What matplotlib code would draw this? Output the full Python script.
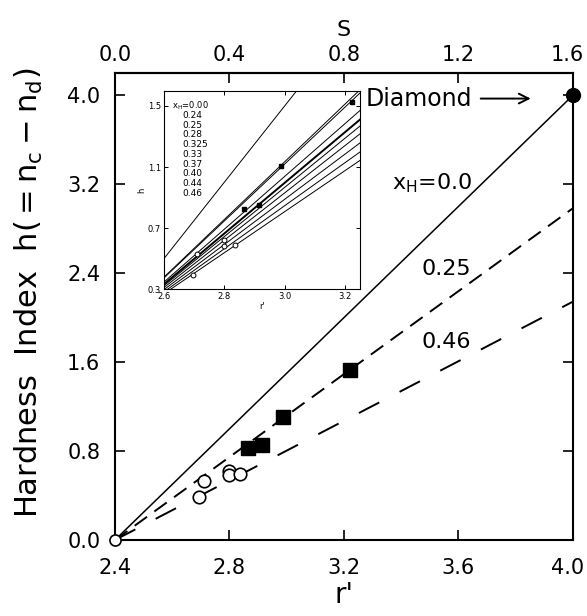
import matplotlib.pyplot as plt
import matplotlib.transforms as mtransforms
import numpy as np

plt.rcParams['font.family'] = 'DejaVu Sans'
plt.rcParams['mathtext.default'] = 'regular'
plt.rcParams['lines.scale_dashes'] = False

# ---- data ----
r_origin = 2.4

# main panel: h = slope * (r' - 2.4)
main_xh = ['0.0', '0.25', '0.46']
main_slopes = [2.5, 1.865, 1.34]

# filled squares and open circles
sq_r = [2.865, 2.914, 2.987, 3.222]
sq_h = [0.827, 0.854, 1.106, 1.528]
circ_r = [2.695, 2.71, 2.80, 2.80, 2.835]
circ_h = [0.39, 0.53, 0.62, 0.585, 0.59]

diamond_r = 4.0
diamond_h = 4.0

# inset lines
inset_xh = ['0.00', '0.24', '0.25', '0.28', '0.325', '0.33', '0.37', '0.40', '0.44', '0.46']
inset_slopes = [2.5, 1.89, 1.865, 1.73, 1.66, 1.61, 1.55, 1.48, 1.41, 1.345]

main_xticks = [2.4, 2.8, 3.2, 3.6, 4.0]
main_yticks = [0.0, 0.8, 1.6, 2.4, 3.2, 4.0]
s_ticks = [0.0, 0.4, 0.8, 1.2, 1.6]
inset_xticks = [2.6, 2.8, 3.0, 3.2]
inset_yticks = [0.3, 0.7, 1.1, 1.5]

fig = plt.figure(figsize=(5.87, 6.16), dpi=100)
ax = fig.add_axes([0.1959, 0.1234, 0.7802, 0.7581])

r_line = np.array([2.4, 4.0])
styles = [dict(ls='-', lw=1.1),
          dict(ls=(0, (11, 6.5)), lw=1.4),
          dict(ls=(0, (16.5, 16.5)), lw=1.4)]
for slope, st in zip(main_slopes, styles):
    ax.plot(r_line, slope * (r_line - r_origin), color='k', **st)

ax.plot(circ_r, circ_h, 'o', ms=9, mfc='white', mec='k', mew=1.2, zorder=4)
ax.plot(sq_r, sq_h, 's', ms=9.5, color='k', zorder=4)
ax.plot(r_origin, 0, 'o', ms=8, mfc='white', mec='k', mew=1.2, clip_on=False, zorder=5)
ax.plot(diamond_r, diamond_h, 'o', ms=10, color='k', clip_on=False, zorder=5)

ax.text(3.367, 3.206, r'$x_H$=' + main_xh[0], fontsize=16, va='center')
ax.text(3.472, 2.436, main_xh[1], fontsize=16, va='center')
ax.text(3.472, 1.777, main_xh[2], fontsize=16, va='center')
ax.text(3.648, 3.97, 'Diamond', fontsize=17, va='center', ha='right')
ax.annotate('', xy=(3.862, 3.97), xytext=(3.668, 3.97),
            arrowprops=dict(arrowstyle='->,head_length=0.7,head_width=0.35',
                            color='k', lw=1.4))

ax.set_xlim(2.4, 4.0)
ax.set_ylim(0, 4.2)
ax.set_xticks(main_xticks)
ax.set_xticklabels([f'{v:.1f}' for v in main_xticks])
ax.set_yticks(main_yticks)
ax.set_yticklabels([f'{v:.1f}' for v in main_yticks])
ax.tick_params(direction='in', length=7, width=1.2, labelsize=15, right=True)
ax.tick_params(axis='x', pad=13)
ax.tick_params(axis='y', pad=10.5)
for sp in ax.spines.values():
    sp.set_linewidth(1.5)
ax.set_xlabel("r'", fontsize=20, labelpad=2)
ax.set_ylabel(r'Hardness  Index  $\mathregular{h(=n_c - n_d)}$', fontsize=22)
ax.yaxis.set_label_coords(-0.152, 0.53)

secax = ax.secondary_xaxis('top', functions=(lambda r: r - r_origin, lambda s: s + r_origin))
secax.set_xticks(s_ticks)
secax.set_xticklabels([f'{v:.1f}' for v in s_ticks])
secax.tick_params(direction='in', length=7, width=1.2, labelsize=15, pad=6)
secax.spines['top'].set_linewidth(1.5)
secax.set_xlabel('S', fontsize=16, labelpad=6)

# nudge the right-most tick labels so they stay inside the figure
shift = mtransforms.ScaledTranslation(-4 / 72, 0, fig.dpi_scale_trans)
for lab in (ax.get_xticklabels()[-1], secax.get_xticklabels()[-1]):
    lab.set_transform(lab.get_transform() + shift)

# ---- inset ----
ax_in = fig.add_axes([0.2794, 0.5308, 0.3339, 0.3219])
r_in = np.array([2.4, 3.3])
for name, slope in zip(inset_xh, inset_slopes):
    lw = 1.4 if name == '0.325' else 0.7
    ax_in.plot(r_in, slope * (r_in - r_origin), color='k', lw=lw)
ax_in.plot(circ_r, circ_h, 'o', ms=3.5, mfc='white', mec='k', mew=0.7)
ax_in.plot(sq_r, sq_h, 's', ms=3, color='k')

ax_in.set_xlim(2.6, 3.25)
ax_in.set_ylim(0.3, 1.6)
ax_in.set_xticks(inset_xticks)
ax_in.set_xticklabels([f'{v:.1f}' for v in inset_xticks])
ax_in.set_yticks(inset_yticks)
ax_in.set_yticklabels([f'{v:.1f}' for v in inset_yticks])
ax_in.tick_params(direction='in', length=3, width=0.7, labelsize=6, pad=2,
                  top=True, right=True)
for sp in ax_in.spines.values():
    sp.set_linewidth(0.8)
ax_in.set_xlabel("r'", fontsize=6, labelpad=1)
ax_in.set_ylabel('h', fontsize=6, labelpad=1)

step = 0.049
for i, name in enumerate(inset_xh):
    if i == 0:
        ax_in.text(0.039, 0.924, r'$x_H$=' + name, fontsize=6,
                   transform=ax_in.transAxes, va='center')
    else:
        ax_in.text(0.095, 0.924 - i * step, name, fontsize=6.5,
                   transform=ax_in.transAxes, va='center')

fig.savefig('out.png', dpi=100)
